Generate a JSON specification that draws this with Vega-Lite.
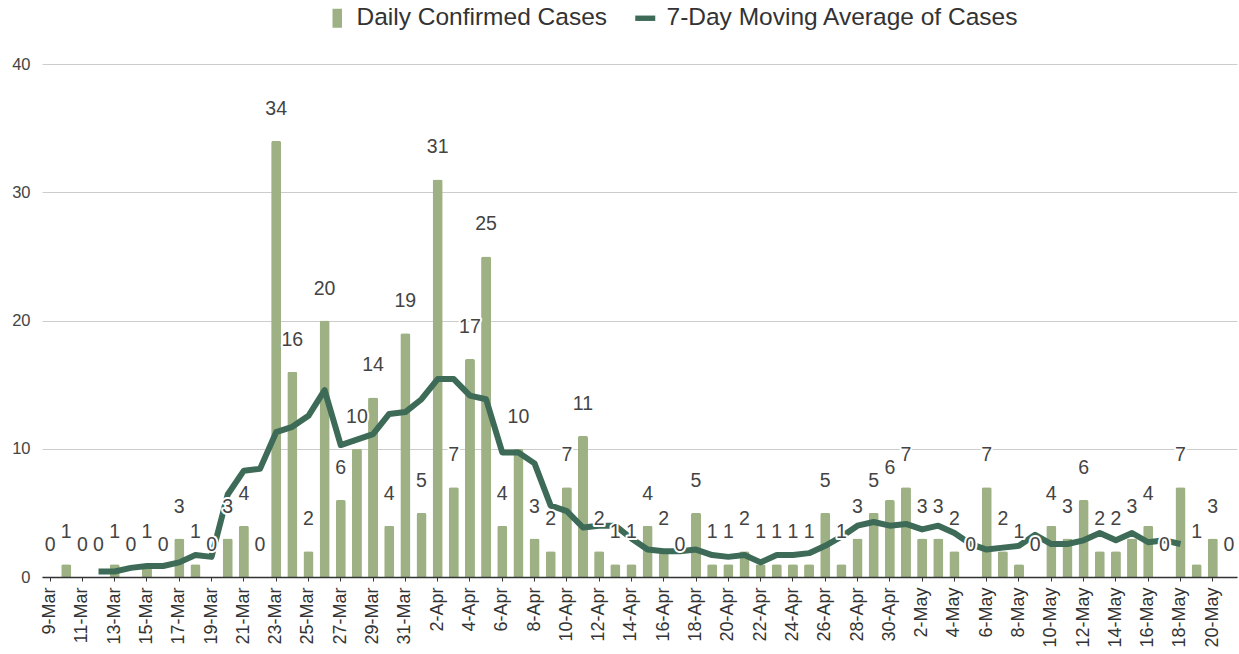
{
  "$schema": "https://vega.github.io/schema/vega-lite/v6.json",
  "autosize": {"type": "none"},
  "padding": {"left": 42, "top": 64, "right": 2, "bottom": 77},
  "width": 1195,
  "height": 513,
  "background": "#ffffff",
  "config": {
    "font": "Liberation Sans",
    "view": {"stroke": null}
  },
  "data": {
    "values": [
      {"date": "9-Mar", "cases": 0, "avg": null},
      {"date": "10-Mar", "cases": 1, "avg": null},
      {"date": "11-Mar", "cases": 0, "avg": null},
      {"date": "12-Mar", "cases": 0, "avg": 0.43},
      {"date": "13-Mar", "cases": 1, "avg": 0.43},
      {"date": "14-Mar", "cases": 0, "avg": 0.71},
      {"date": "15-Mar", "cases": 1, "avg": 0.86},
      {"date": "16-Mar", "cases": 0, "avg": 0.86},
      {"date": "17-Mar", "cases": 3, "avg": 1.14},
      {"date": "18-Mar", "cases": 1, "avg": 1.71},
      {"date": "19-Mar", "cases": 0, "avg": 1.57},
      {"date": "20-Mar", "cases": 3, "avg": 6.43},
      {"date": "21-Mar", "cases": 4, "avg": 8.29},
      {"date": "22-Mar", "cases": 0, "avg": 8.43},
      {"date": "23-Mar", "cases": 34, "avg": 11.29},
      {"date": "24-Mar", "cases": 16, "avg": 11.71},
      {"date": "25-Mar", "cases": 2, "avg": 12.57},
      {"date": "26-Mar", "cases": 20, "avg": 14.57},
      {"date": "27-Mar", "cases": 6, "avg": 10.29},
      {"date": "28-Mar", "cases": 10, "avg": 10.71},
      {"date": "29-Mar", "cases": 14, "avg": 11.14},
      {"date": "30-Mar", "cases": 4, "avg": 12.71},
      {"date": "31-Mar", "cases": 19, "avg": 12.86},
      {"date": "1-Apr", "cases": 5, "avg": 13.86},
      {"date": "2-Apr", "cases": 31, "avg": 15.43},
      {"date": "3-Apr", "cases": 7, "avg": 15.43},
      {"date": "4-Apr", "cases": 17, "avg": 14.14},
      {"date": "5-Apr", "cases": 25, "avg": 13.86},
      {"date": "6-Apr", "cases": 4, "avg": 9.71},
      {"date": "7-Apr", "cases": 10, "avg": 9.71},
      {"date": "8-Apr", "cases": 3, "avg": 8.86},
      {"date": "9-Apr", "cases": 2, "avg": 5.57},
      {"date": "10-Apr", "cases": 7, "avg": 5.14},
      {"date": "11-Apr", "cases": 11, "avg": 3.86},
      {"date": "12-Apr", "cases": 2, "avg": 4.0},
      {"date": "13-Apr", "cases": 1, "avg": 4.0},
      {"date": "14-Apr", "cases": 1, "avg": 3.0},
      {"date": "15-Apr", "cases": 4, "avg": 2.14},
      {"date": "16-Apr", "cases": 2, "avg": 2.0},
      {"date": "17-Apr", "cases": 0, "avg": 2.0},
      {"date": "18-Apr", "cases": 5, "avg": 2.14},
      {"date": "19-Apr", "cases": 1, "avg": 1.71},
      {"date": "20-Apr", "cases": 1, "avg": 1.57},
      {"date": "21-Apr", "cases": 2, "avg": 1.71},
      {"date": "22-Apr", "cases": 1, "avg": 1.14},
      {"date": "23-Apr", "cases": 1, "avg": 1.71},
      {"date": "24-Apr", "cases": 1, "avg": 1.71},
      {"date": "25-Apr", "cases": 1, "avg": 1.86},
      {"date": "26-Apr", "cases": 5, "avg": 2.43},
      {"date": "27-Apr", "cases": 1, "avg": 3.14},
      {"date": "28-Apr", "cases": 3, "avg": 4.0},
      {"date": "29-Apr", "cases": 5, "avg": 4.29},
      {"date": "30-Apr", "cases": 6, "avg": 4.0},
      {"date": "1-May", "cases": 7, "avg": 4.14},
      {"date": "2-May", "cases": 3, "avg": 3.71},
      {"date": "3-May", "cases": 3, "avg": 4.0},
      {"date": "4-May", "cases": 2, "avg": 3.43},
      {"date": "5-May", "cases": 0, "avg": 2.57},
      {"date": "6-May", "cases": 7, "avg": 2.14},
      {"date": "7-May", "cases": 2, "avg": 2.29},
      {"date": "8-May", "cases": 1, "avg": 2.43},
      {"date": "9-May", "cases": 0, "avg": 3.29},
      {"date": "10-May", "cases": 4, "avg": 2.57},
      {"date": "11-May", "cases": 3, "avg": 2.57},
      {"date": "12-May", "cases": 6, "avg": 2.86},
      {"date": "13-May", "cases": 2, "avg": 3.43},
      {"date": "14-May", "cases": 2, "avg": 2.86},
      {"date": "15-May", "cases": 3, "avg": 3.43},
      {"date": "16-May", "cases": 4, "avg": 2.71},
      {"date": "17-May", "cases": 0, "avg": 2.86},
      {"date": "18-May", "cases": 7, "avg": 2.57},
      {"date": "19-May", "cases": 1, "avg": null},
      {"date": "20-May", "cases": 3, "avg": null},
      {"date": "21-May", "cases": 0, "avg": null}
    ]
  },
  "encoding": {
    "x": {
      "field": "date",
      "type": "ordinal",
      "sort": null,
      "title": null,
      "scale": {"paddingInner": 0.38, "paddingOuter": 0.19},
      "axis": {
        "values": ["9-Mar","11-Mar","13-Mar","15-Mar","17-Mar","19-Mar","21-Mar","23-Mar","25-Mar","27-Mar","29-Mar","31-Mar","2-Apr","4-Apr","6-Apr","8-Apr","10-Apr","12-Apr","14-Apr","16-Apr","18-Apr","20-Apr","22-Apr","24-Apr","26-Apr","28-Apr","30-Apr","2-May","4-May","6-May","8-May","10-May","12-May","14-May","16-May","18-May","20-May"],
        "labelAngle": -90,
        "labelFontSize": 18,
        "labelColor": "#333333",
        "labelPadding": 6,
        "labelLimit": 0,
        "domainColor": "#333333",
        "domainWidth": 1.5,
        "tickColor": "#333333",
        "tickSize": 4,
        "grid": false,
        "zindex": 1
      }
    }
  },
  "layer": [
    {
      "mark": {"type": "bar", "cornerRadiusTopLeft": 2, "cornerRadiusTopRight": 2},
      "encoding": {
        "y": {
          "field": "cases",
          "type": "quantitative",
          "title": null,
          "scale": {"domain": [0, 40], "nice": false},
          "axis": {
            "values": [0, 10, 20, 30, 40],
            "labelFontSize": 16.5,
            "labelColor": "#444444",
            "labelPadding": 12,
            "ticks": false,
            "domain": false,
            "gridColor": "#cccccc",
            "gridWidth": 1
          }
        },
        "fill": {
          "datum": "Daily Confirmed Cases",
          "type": "nominal",
          "scale": {"range": ["#9db184"]},
          "legend": {
            "orient": "none",
            "legendX": 283,
            "legendY": -58,
            "title": null,
            "padding": 0,
            "symbolType": "M-0.5,-1L0.5,-1L0.5,1L-0.5,1Z",
            "symbolSize": 361,
            "symbolStrokeWidth": 0,
            "symbolOpacity": 1,
            "labelFontSize": 24.5,
            "labelColor": "#333333",
            "labelOffset": 7,
            "labelLimit": 0
          }
        }
      }
    },
    {
      "mark": {"type": "line", "strokeWidth": 6, "strokeJoin": "round", "strokeCap": "butt"},
      "encoding": {
        "y": {"field": "avg", "type": "quantitative"},
        "stroke": {
          "datum": "7-Day Moving Average of Cases",
          "type": "nominal",
          "scale": {"range": ["#3d6b57"]},
          "legend": {
            "orient": "none",
            "legendX": 591,
            "legendY": -58,
            "title": null,
            "padding": 0,
            "symbolType": "M-1,-0.27L1,-0.27L1,0.27L-1,0.27Z",
            "symbolSize": 400,
            "symbolStrokeWidth": 0,
            "symbolFillColor": "#3d6b57",
            "symbolOpacity": 1,
            "labelFontSize": 24.5,
            "labelColor": "#333333",
            "labelOffset": 9,
            "labelLimit": 0
          }
        }
      }
    },
    {
      "mark": {"type": "text", "baseline": "middle", "align": "center", "dy": -32, "fontSize": 19.5, "fill": "#ffffff", "stroke": "#ffffff", "strokeWidth": 4, "strokeJoin": "round"},
      "encoding": {
        "y": {"field": "cases", "type": "quantitative"},
        "text": {"field": "cases", "type": "quantitative"}
      }
    },
    {
      "mark": {"type": "text", "baseline": "middle", "align": "center", "dy": -32, "fontSize": 19.5, "fill": "#444444"},
      "encoding": {
        "y": {"field": "cases", "type": "quantitative"},
        "text": {"field": "cases", "type": "quantitative"}
      }
    }
  ],
  "resolve": {"scale": {"fill": "independent", "stroke": "independent"}}
}
